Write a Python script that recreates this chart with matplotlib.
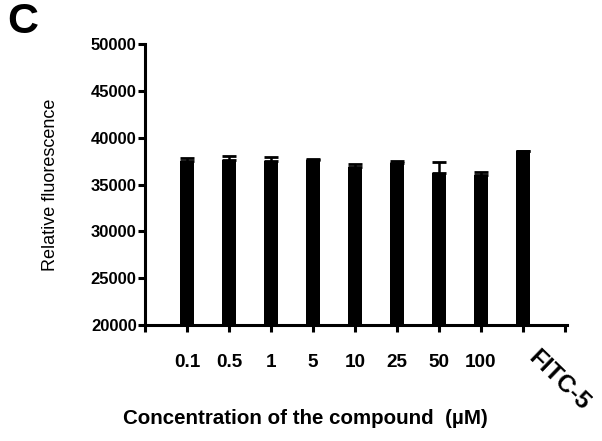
import matplotlib
matplotlib.use("Agg")
import matplotlib.pyplot as plt
import matplotlib.transforms as mtransforms
import numpy as np

plt.rcParams['font.family'] = ['Liberation Sans', 'DejaVu Sans']

categories = ['0.1', '0.5', '1', '5', '10', '25', '50', '100', 'FITC-5']
values = [37500, 37610, 37540, 37650, 36900, 37260, 36260, 36010, 38580]
errors = [360, 430, 360, 60, 320, 280, 1170, 290, 0]
y_ticks = [20000, 25000, 30000, 35000, 40000, 45000, 50000]

fig = plt.figure(figsize=(6.02, 4.41), dpi=100)
ax = fig.add_axes([0.2409, 0.263, 0.701, 0.637])

x = np.arange(1, len(categories) + 1)
ax.bar(x, values, width=0.33, color='black', zorder=2)
ax.errorbar(x, values, yerr=[np.zeros(len(errors)), errors], fmt='none',
            ecolor='black', elinewidth=1.8, capsize=5, capthick=2.0, zorder=3)

ax.set_xlim(0, 10.05)
ax.set_ylim(20000, 50000)
ax.set_yticks(y_ticks)
ax.set_yticklabels([str(v) for v in y_ticks], fontsize=12, fontweight='bold')

ax.set_xticks(np.arange(0, 11))
labels = [''] + categories[:-1] + ['', '']
ax.set_xticklabels(labels, fontsize=13.6, fontweight='bold')
ax.tick_params(axis='x', direction='out', length=5, width=2.2, pad=16)
ax.tick_params(axis='y', direction='out', length=5, width=2.2, pad=1)

trans = ax.get_xaxis_transform() + mtransforms.ScaledTranslation(
    9 / 100, -29 / 100, fig.dpi_scale_trans)
ax.text(x[-1], 0, categories[-1], transform=trans, rotation=-44,
        rotation_mode='anchor', ha='left', va='center', fontsize=17.5,
        fontweight='bold')

for s in ['top', 'right']:
    ax.spines[s].set_visible(False)
for s in ['left', 'bottom']:
    ax.spines[s].set_linewidth(2.2)

ax.set_ylabel('Relative fluorescence', fontsize=13)
ax.yaxis.set_label_coords(-0.205, 0.5)
fig.text(0.507, 0.052, 'Concentration of the compound  (\u00b5M)', fontsize=14.8,
         fontweight='bold', ha='center', va='center')
fig.text(0.012, 0.995, 'C', fontsize=31, fontweight='bold', ha='left', va='top')

fig.savefig('out.png', dpi=100)
